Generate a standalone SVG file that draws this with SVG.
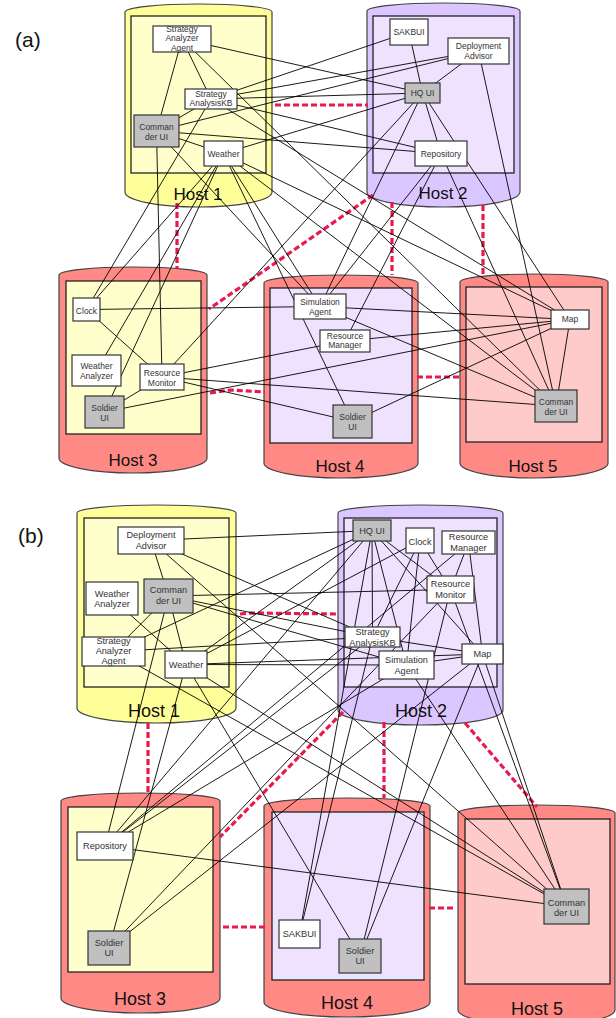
<svg xmlns="http://www.w3.org/2000/svg" width="616" height="1018" viewBox="0 0 616 1018">
<style>
.cyl{stroke:#444;stroke-width:1.2}
.yo{fill:#FFFF99}.po{fill:#DCC6FF}.ro{fill:#FF8A85}
.in{stroke:#222;stroke-width:1.3}
.yi{fill:#FFFFCC}.pi{fill:#EEE2FF}.ri{fill:#FFCACA}
.hl{font-family:"Liberation Sans",Arial,sans-serif;font-size:17px;fill:#111;text-anchor:middle}
.hlb{font-size:18px}
.nb{fill:#fff;stroke:#333;stroke-width:1.2}
.gr{fill:#C0C0C0}
.t{font-family:"Liberation Sans",Arial,sans-serif;font-size:8.5px;fill:#333;text-anchor:middle}
.tb{font-size:9.2px}
.lab{font-family:"Liberation Sans",Arial,sans-serif;font-size:21px;fill:#111}
.cn line{stroke:#000;stroke-width:0.9}
.rd{fill:none;stroke:#E8194E;stroke-width:3.2;stroke-dasharray:6 3}
</style>
<rect width="616" height="1018" fill="#fff"/>
<text class="lab" x="15" y="47">(a)</text>
<text class="lab" x="18" y="543">(b)</text>

<g id="a-host1"><path class="cyl yo" d="M125,12 A73.5,8 0 0 1 272,12 V192 A73.5,15 0 0 1 125,192 Z"/><rect class="in yi" x="131" y="16" width="135" height="157"/><text class="hl" x="198" y="200">Host 1</text></g>
<g id="a-host2"><path class="cyl po" d="M367,11 A76.5,8 0 0 1 520,11 V192 A76.5,15 0 0 1 367,192 Z"/><rect class="in pi" x="373" y="16" width="141" height="157"/><text class="hl" x="443" y="199">Host 2</text></g>
<g id="a-host3"><path class="cyl ro" d="M59,275 A74,8 0 0 1 207,275 V458 A74,15 0 0 1 59,458 Z"/><rect class="in yi" x="66" y="281" width="135" height="153"/><text class="hl" x="133" y="466">Host 3</text></g>
<g id="a-host4"><path class="cyl ro" d="M264,283 A77,8 0 0 1 418,283 V463 A77,15 0 0 1 264,463 Z"/><rect class="in pi" x="270" y="288" width="142" height="155"/><text class="hl" x="340" y="472">Host 4</text></g>
<g id="a-host5"><path class="cyl ro" d="M460,282 A74,8 0 0 1 608,282 V463 A74,15 0 0 1 460,463 Z"/><rect class="in ri" x="466" y="287" width="136" height="155"/><text class="hl" x="533" y="472">Host 5</text></g>

<g id="b-host1"><path class="cyl yo" d="M77,513 A79.5,8 0 0 1 236,513 V708 A79.5,15 0 0 1 77,708 Z"/><rect class="in yi" x="84" y="518" width="145" height="169"/><text class="hl hlb" x="154" y="717">Host 1</text></g>
<g id="b-host2"><path class="cyl po" d="M338,513 A82.5,8 0 0 1 503,513 V710 A82.5,15 0 0 1 338,710 Z"/><rect class="in pi" x="344" y="518" width="153" height="169"/><text class="hl hlb" x="421" y="717">Host 2</text></g>
<g id="b-host3"><path class="cyl ro" d="M61,801 A79.5,8 0 0 1 220,801 V998 A79.5,15 0 0 1 61,998 Z"/><rect class="in yi" x="68" y="807" width="145" height="165"/><text class="hl hlb" x="140" y="1005">Host 3</text></g>
<g id="b-host4"><path class="cyl ro" d="M264,806 A83,8 0 0 1 430,806 V1002 A83,15 0 0 1 264,1002 Z"/><rect class="in pi" x="272" y="812" width="152" height="168"/><text class="hl hlb" x="347" y="1009">Host 4</text></g>
<g id="b-host5"><path class="cyl ro" d="M458,813 A78.5,8 0 0 1 615,813 V1010 A78.5,15 0 0 1 458,1010 Z"/><rect class="in ri" x="465" y="819" width="145" height="165"/><text class="hl hlb" x="537" y="1015">Host 5</text></g>

<g id="network">
<path class="rd" d="M275,105 H368"/>
<path class="rd" d="M177,203 V268"/>
<path class="rd" d="M373,195 L209,309"/>
<path class="rd" d="M392,202 V275"/>
<path class="rd" d="M483,205 V276"/>
<path class="rd" d="M210,393 L230,390 L265,392"/>
<path class="rd" d="M417,377 H462"/>
<path class="rd" d="M240,614 L250,613 L338,614"/>
<path class="rd" d="M148,723 V793"/>
<path class="rd" d="M343,712 L220,837"/>
<path class="rd" d="M384,722 V798"/>
<path class="rd" d="M465,723 L537,807"/>
<path class="rd" d="M223,927 H266"/>
<path class="rd" d="M429,908 H453"/>
</g>

<g id="connectors" class="cn">
<line x1="182" y1="39" x2="422.5" y2="93"/>
<line x1="182" y1="39" x2="156.5" y2="131"/>
<line x1="182" y1="39" x2="211" y2="99"/>
<line x1="182" y1="39" x2="556" y2="406"/>
<line x1="211" y1="99" x2="409" y2="32"/>
<line x1="211" y1="99" x2="478.5" y2="51"/>
<line x1="211" y1="99" x2="422.5" y2="93"/>
<line x1="211" y1="99" x2="441" y2="153.5"/>
<line x1="211" y1="99" x2="86.5" y2="309.5"/>
<line x1="211" y1="99" x2="570" y2="319.5"/>
<line x1="211" y1="99" x2="156.5" y2="131"/>
<line x1="156.5" y1="131" x2="478.5" y2="51"/>
<line x1="156.5" y1="131" x2="441" y2="153.5"/>
<line x1="156.5" y1="131" x2="223.5" y2="153.5"/>
<line x1="156.5" y1="131" x2="162" y2="377"/>
<line x1="156.5" y1="131" x2="320" y2="306.5"/>
<line x1="223.5" y1="153.5" x2="422.5" y2="93"/>
<line x1="223.5" y1="153.5" x2="86.5" y2="309.5"/>
<line x1="223.5" y1="153.5" x2="96.5" y2="370.5"/>
<line x1="223.5" y1="153.5" x2="104.5" y2="412"/>
<line x1="223.5" y1="153.5" x2="320" y2="306.5"/>
<line x1="223.5" y1="153.5" x2="352.5" y2="421.5"/>
<line x1="223.5" y1="153.5" x2="570" y2="319.5"/>
<line x1="223.5" y1="153.5" x2="556" y2="406"/>
<line x1="409" y1="32" x2="422.5" y2="93"/>
<line x1="478.5" y1="51" x2="422.5" y2="93"/>
<line x1="478.5" y1="51" x2="556" y2="406"/>
<line x1="422.5" y1="93" x2="162" y2="377"/>
<line x1="422.5" y1="93" x2="320" y2="306.5"/>
<line x1="422.5" y1="93" x2="441" y2="153.5"/>
<line x1="422.5" y1="93" x2="570" y2="319.5"/>
<line x1="441" y1="153.5" x2="320" y2="306.5"/>
<line x1="441" y1="153.5" x2="345" y2="341"/>
<line x1="441" y1="153.5" x2="556" y2="406"/>
<line x1="86.5" y1="309.5" x2="320" y2="306.5"/>
<line x1="86.5" y1="309.5" x2="162" y2="377"/>
<line x1="162" y1="377" x2="104.5" y2="412"/>
<line x1="162" y1="377" x2="345" y2="341"/>
<line x1="162" y1="377" x2="556" y2="406"/>
<line x1="162" y1="377" x2="352.5" y2="421.5"/>
<line x1="104.5" y1="412" x2="570" y2="319.5"/>
<line x1="320" y1="306.5" x2="570" y2="319.5"/>
<line x1="320" y1="306.5" x2="556" y2="406"/>
<line x1="345" y1="341" x2="570" y2="319.5"/>
<line x1="352.5" y1="421.5" x2="570" y2="319.5"/>
<line x1="570" y1="319.5" x2="556" y2="406"/>

<line x1="113.5" y1="651.5" x2="372" y2="530.5"/>
<line x1="113.5" y1="651.5" x2="168.5" y2="596"/>
<line x1="113.5" y1="651.5" x2="372.5" y2="637"/>
<line x1="113.5" y1="651.5" x2="566.5" y2="906.5"/>
<line x1="372.5" y1="637" x2="299.5" y2="934"/>
<line x1="372.5" y1="637" x2="151" y2="540.5"/>
<line x1="372.5" y1="637" x2="372" y2="530.5"/>
<line x1="372.5" y1="637" x2="105" y2="846"/>
<line x1="372.5" y1="637" x2="420" y2="540.5"/>
<line x1="372.5" y1="637" x2="482.5" y2="654"/>
<line x1="372.5" y1="637" x2="168.5" y2="596"/>
<line x1="168.5" y1="596" x2="151" y2="540.5"/>
<line x1="168.5" y1="596" x2="105" y2="846"/>
<line x1="168.5" y1="596" x2="186" y2="664.5"/>
<line x1="168.5" y1="596" x2="450.5" y2="589.5"/>
<line x1="168.5" y1="596" x2="406.5" y2="665"/>
<line x1="186" y1="664.5" x2="372" y2="530.5"/>
<line x1="186" y1="664.5" x2="420" y2="540.5"/>
<line x1="186" y1="664.5" x2="112" y2="598.5"/>
<line x1="186" y1="664.5" x2="109" y2="948"/>
<line x1="186" y1="664.5" x2="406.5" y2="665"/>
<line x1="186" y1="664.5" x2="360" y2="956"/>
<line x1="186" y1="664.5" x2="482.5" y2="654"/>
<line x1="186" y1="664.5" x2="566.5" y2="906.5"/>
<line x1="299.5" y1="934" x2="372" y2="530.5"/>
<line x1="151" y1="540.5" x2="372" y2="530.5"/>
<line x1="151" y1="540.5" x2="566.5" y2="906.5"/>
<line x1="372" y1="530.5" x2="450.5" y2="589.5"/>
<line x1="372" y1="530.5" x2="406.5" y2="665"/>
<line x1="372" y1="530.5" x2="105" y2="846"/>
<line x1="372" y1="530.5" x2="482.5" y2="654"/>
<line x1="105" y1="846" x2="406.5" y2="665"/>
<line x1="105" y1="846" x2="468.5" y2="542.5"/>
<line x1="105" y1="846" x2="566.5" y2="906.5"/>
<line x1="420" y1="540.5" x2="406.5" y2="665"/>
<line x1="420" y1="540.5" x2="450.5" y2="589.5"/>
<line x1="450.5" y1="589.5" x2="109" y2="948"/>
<line x1="450.5" y1="589.5" x2="468.5" y2="542.5"/>
<line x1="450.5" y1="589.5" x2="566.5" y2="906.5"/>
<line x1="450.5" y1="589.5" x2="360" y2="956"/>
<line x1="109" y1="948" x2="482.5" y2="654"/>
<line x1="406.5" y1="665" x2="482.5" y2="654"/>
<line x1="406.5" y1="665" x2="566.5" y2="906.5"/>
<line x1="468.5" y1="542.5" x2="482.5" y2="654"/>
<line x1="360" y1="956" x2="482.5" y2="654"/>
<line x1="482.5" y1="654" x2="566.5" y2="906.5"/>
</g>

<g id="a-strategy-analyzer-agent"><rect class="nb" x="153" y="26" width="58" height="26"/><text class="t" x="182" y="31.5">Strategy</text><text class="t" x="182" y="41">Analyzer</text><text class="t" x="182" y="50.5">Agent</text></g>
<g id="a-strategy-analysiskb"><rect class="nb" x="185" y="89" width="52" height="20"/><text class="t" x="211" y="97">Strategy</text><text class="t" x="211" y="106">AnalysisKB</text></g>
<g id="a-commander-ui-1"><rect class="nb gr" x="134" y="115" width="45" height="32"/><text class="t" x="156.5" y="130">Comman</text><text class="t" x="156.5" y="140">der UI</text></g>
<g id="a-weather"><rect class="nb" x="204" y="141" width="39" height="25"/><text class="t" x="223.5" y="157">Weather</text></g>
<g id="a-sakbui"><rect class="nb" x="390" y="19" width="38" height="26"/><text class="t" x="409" y="35">SAKBUI</text></g>
<g id="a-deployment-advisor"><rect class="nb" x="448" y="38" width="61" height="26"/><text class="t" x="478.5" y="48.5">Deployment</text><text class="t" x="478.5" y="58.5">Advisor</text></g>
<g id="a-hq-ui"><rect class="nb gr" x="405" y="83" width="35" height="20"/><text class="t" x="422.5" y="96">HQ UI</text></g>
<g id="a-repository"><rect class="nb" x="415" y="141" width="52" height="25"/><text class="t" x="441" y="157">Repository</text></g>
<g id="a-clock"><rect class="nb" x="73" y="298" width="27" height="23"/><text class="t" x="86.5" y="314">Clock</text></g>
<g id="a-weather-analyzer"><rect class="nb" x="72" y="355" width="49" height="31"/><text class="t" x="96.5" y="369">Weather</text><text class="t" x="96.5" y="378.5">Analyzer</text></g>
<g id="a-resource-monitor"><rect class="nb" x="140" y="364" width="44" height="26"/><text class="t" x="162" y="375.5">Resource</text><text class="t" x="162" y="385.5">Monitor</text></g>
<g id="a-soldier-ui-3"><rect class="nb gr" x="85" y="396" width="39" height="32"/><text class="t" x="104.5" y="410.5">Soldier</text><text class="t" x="104.5" y="420.5">UI</text></g>
<g id="a-simulation-agent"><rect class="nb" x="294" y="294" width="52" height="25"/><text class="t" x="320" y="305">Simulation</text><text class="t" x="320" y="314.5">Agent</text></g>
<g id="a-resource-manager"><rect class="nb" x="320" y="330" width="50" height="22"/><text class="t" x="345" y="338.5">Resource</text><text class="t" x="345" y="347.5">Manager</text></g>
<g id="a-soldier-ui-4"><rect class="nb gr" x="333" y="405" width="39" height="33"/><text class="t" x="352.5" y="420">Soldier</text><text class="t" x="352.5" y="430">UI</text></g>
<g id="a-map"><rect class="nb" x="551" y="310" width="38" height="19"/><text class="t" x="570" y="321.5">Map</text></g>
<g id="a-commander-ui-5"><rect class="nb gr" x="535" y="390" width="42" height="32"/><text class="t" x="556" y="405">Comman</text><text class="t" x="556" y="415">der UI</text></g>

<g id="b-deployment-advisor"><rect class="nb" x="118" y="527" width="66" height="27"/><text class="t tb" x="151" y="538">Deployment</text><text class="t tb" x="151" y="549">Advisor</text></g>
<g id="b-weather-analyzer"><rect class="nb" x="86" y="582" width="52" height="33"/><text class="t tb" x="112" y="596.5">Weather</text><text class="t tb" x="112" y="606.5">Analyzer</text></g>
<g id="b-commander-ui-1"><rect class="nb gr" x="144" y="579" width="49" height="34"/><text class="t tb" x="168.5" y="593">Comman</text><text class="t tb" x="168.5" y="604">der UI</text></g>
<g id="b-strategy-analyzer-agent"><rect class="nb" x="82" y="637" width="63" height="29"/><text class="t tb" x="113.5" y="643.5">Strategy</text><text class="t tb" x="113.5" y="654">Analyzer</text><text class="t tb" x="113.5" y="664">Agent</text></g>
<g id="b-weather"><rect class="nb" x="165" y="651" width="42" height="27"/><text class="t tb" x="186" y="667.5">Weather</text></g>
<g id="b-hq-ui"><rect class="nb gr" x="353" y="520" width="38" height="21"/><text class="t tb" x="372" y="534">HQ UI</text></g>
<g id="b-clock"><rect class="nb" x="406" y="528" width="28" height="25"/><text class="t tb" x="420" y="544.5">Clock</text></g>
<g id="b-resource-manager"><rect class="nb" x="442" y="531" width="53" height="23"/><text class="t tb" x="468.5" y="540">Resource</text><text class="t tb" x="468.5" y="550.5">Manager</text></g>
<g id="b-resource-monitor"><rect class="nb" x="427" y="576" width="47" height="27"/><text class="t tb" x="450.5" y="587">Resource</text><text class="t tb" x="450.5" y="597.5">Monitor</text></g>
<g id="b-strategy-analysiskb"><rect class="nb" x="345" y="627" width="55" height="20"/><text class="t tb" x="372.5" y="635">Strategy</text><text class="t tb" x="372.5" y="646">AnalysisKB</text></g>
<g id="b-simulation-agent"><rect class="nb" x="379" y="651" width="55" height="28"/><text class="t tb" x="406.5" y="663">Simulation</text><text class="t tb" x="406.5" y="673.5">Agent</text></g>
<g id="b-map"><rect class="nb" x="462" y="644" width="41" height="20"/><text class="t tb" x="482.5" y="657">Map</text></g>
<g id="b-repository"><rect class="nb" x="77" y="832" width="56" height="28"/><text class="t tb" x="105" y="849">Repository</text></g>
<g id="b-soldier-ui-3"><rect class="nb gr" x="88" y="931" width="42" height="34"/><text class="t tb" x="109" y="945.5">Soldier</text><text class="t tb" x="109" y="955.5">UI</text></g>
<g id="b-sakbui"><rect class="nb" x="279" y="920" width="41" height="28"/><text class="t tb" x="299.5" y="937">SAKBUI</text></g>
<g id="b-soldier-ui-4"><rect class="nb gr" x="339" y="939" width="42" height="34"/><text class="t tb" x="360" y="954">Soldier</text><text class="t tb" x="360" y="964">UI</text></g>
<g id="b-commander-ui-5"><rect class="nb gr" x="544" y="889" width="45" height="35"/><text class="t tb" x="566.5" y="905.5">Comman</text><text class="t tb" x="566.5" y="916">der UI</text></g>
</svg>
